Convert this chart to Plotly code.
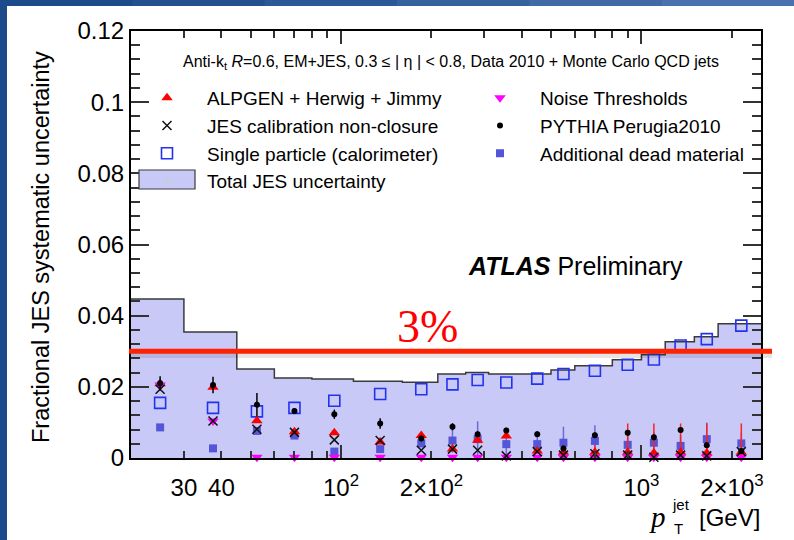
import numpy as np
import plotly.graph_objects as go

# ---- data -------------------------------------------------------------
# jet pT bin edges [GeV]
pt_edges = [20, 30, 45, 60, 80, 110, 160, 210, 260, 310, 400, 500,
            600, 800, 1000, 1200, 1500, 1800, 2500]

# total JES systematic uncertainty per bin (filled band)
total_jes = [0.0447, 0.0354, 0.0250, 0.0225, 0.0222, 0.0216, 0.0213, 0.0236,
             0.0240, 0.0236, 0.0236, 0.0247, 0.0259, 0.0276, 0.0290, 0.0327,
             0.0341, 0.0377]

# individual components
single_particle = [0.0155, 0.0141, 0.0131, 0.0141, 0.0161, 0.0180, 0.0193, 0.0207,
                   0.0219, 0.0212, 0.0223, 0.0236, 0.0245, 0.0262, 0.0277, 0.0316,
                   0.0334, 0.0372]
dead_material = [0.0086, 0.0027, 0.0076, 0.0063, 0.0018, 0.0025, 0.0041, 0.0049,
                 0.0053, 0.0039, 0.0039, 0.0043, 0.0048, 0.0037, 0.0043, 0.0034,
                 0.0053, 0.0041]
dead_material_err = [0.0, 0.0, 0.0, 0.0, 0.0, 0.0, 0.0008, 0.0034,
                     0.0050, 0.0030, 0.0020, 0.0045, 0.0044, 0.0030, 0.0030, 0.0030,
                     0.0047, 0.0030]
alpgen = [0.0209, 0.0199, 0.0105, 0.0074, 0.0071, 0.0045, 0.0063, 0.0025,
          0.0050, 0.0062, 0.0020, 0.0016, 0.0016, 0.0016, 0.0014, 0.0016,
          0.0014, 0.0016]
alpgen_err = [0.0, 0.0, 0.0, 0.0, 0.0, 0.0, 0.0, 0.0,
              0.0, 0.0, 0.0, 0.0020, 0.0020, 0.0081, 0.0083, 0.0081,
              0.0083, 0.0081]
pythia = [0.0210, 0.0205, 0.0150, 0.0132, 0.0123, 0.0097, 0.0055, 0.0088,
          0.0067, 0.0077, 0.0067, 0.0027, 0.0064, 0.0071, 0.0058, 0.0079,
          0.0036, 0.0020]
pythia_err = [0.0020, 0.0023, 0.0033, 0.0008, 0.0013, 0.0015, 0.0008, 0.0010,
              0.0008, 0.0008, 0.0008, 0.0008, 0.0008, 0.0008, 0.0008, 0.0008,
              0.0008, 0.0008]
nonclosure = [0.0193, 0.0104, 0.0081, 0.0072, 0.0051, 0.0049, 0.0022, 0.0025,
              0.0022, 0.0006, 0.0018, 0.0008, 0.0012, 0.0008, 0.0002, 0.0008,
              0.0006, 0.0018]
noise = [0.0205, 0.0104, 0.0002, 0.0002, 0.0002, 0.0002, 0.0002, 0.0002,
         0.0002, 0.0002, 0.0002, 0.0002, 0.0002, 0.0002, 0.0002, 0.0002,
         0.0002, 0.0002]

reference_level = 0.03

# axis ticks
x_tick_values = [20, 30, 40, 50, 60, 70, 80, 90, 100, 200, 300, 400, 500,
                 600, 700, 800, 900, 1000, 2000]
x_tick_labels = {30: "30", 40: "40", 100: "10<sup>2</sup>", 200: "2×10<sup>2</sup>",
                 1000: "10<sup>3</sup>", 2000: "2×10<sup>3</sup>"}
y_tick_values = [0, 0.02, 0.04, 0.06, 0.08, 0.10, 0.12]
y_tick_labels = ["0", "0.02", "0.04", "0.06", "0.08", "0.1", "0.12"]

# ---- figure -----------------------------------------------------------
SANS = "Liberation Sans, Arial, Helvetica, sans-serif"
SERIF = "Liberation Serif, Times New Roman, serif"
BAND_FILL = "#c9c9f8"
BAND_LINE = "#3a3a3a"

W, H = 794, 540
L, R, T, B = 131, 33, 31, 82
PW, PH = W - L - R, H - T - B


def px_x(p):
    return (p - L) / PW


def px_y(p):
    return (H - B - p) / PH


edges = np.array(pt_edges, dtype=float)
centers = 0.5 * (edges[:-1] + edges[1:])

fig = go.Figure()

# total uncertainty band as a filled step histogram
fig.add_trace(go.Scatter(
    x=edges, y=list(total_jes) + [total_jes[-1]],
    mode="lines", line=dict(shape="hv", color=BAND_LINE, width=1.5),
    fill="tozeroy", fillcolor=BAND_FILL, showlegend=False,
    hoverinfo="skip"))

common = dict(mode="markers", cliponaxis=False)

fig.add_trace(go.Scatter(
    x=centers, y=single_particle, name="Single particle (calorimeter)",
    marker=dict(symbol="square-open", size=11, color="#2233ee",
                line=dict(width=1.6, color="#2233ee")),
    legend="legend", legendrank=3, **common))

fig.add_trace(go.Scatter(
    x=centers, y=dead_material, name="Additional dead material",
    marker=dict(symbol="square", size=8, color="#5555d8"),
    error_y=dict(type="data", array=dead_material_err, color="#6a6ad8",
                 thickness=1.5, width=0),
    legend="legend2", legendrank=3, **common))

fig.add_trace(go.Scatter(
    x=centers, y=alpgen, name="ALPGEN + Herwig + Jimmy",
    marker=dict(symbol="triangle-up", size=10, color="#ff0000"),
    error_y=dict(type="data", array=alpgen_err, color="#ff2020",
                 thickness=1.5, width=0),
    legend="legend", legendrank=1, **common))

fig.add_trace(go.Scatter(
    x=centers, y=noise, name="Noise Thresholds",
    marker=dict(symbol="triangle-down", size=10, color="#ff00ff"),
    legend="legend2", legendrank=1, **common))

fig.add_trace(go.Scatter(
    x=centers, y=nonclosure, name="JES calibration non-closure",
    marker=dict(symbol="x-thin-open", size=9, color="#111111",
                line=dict(width=1.5, color="#111111")),
    legend="legend", legendrank=2, **common))

fig.add_trace(go.Scatter(
    x=centers, y=pythia, name="PYTHIA Perugia2010",
    marker=dict(symbol="circle", size=6, color="#000000"),
    error_y=dict(type="data", array=pythia_err, color="#000000",
                 thickness=1.5, width=0),
    legend="legend2", legendrank=2, **common))

# legend entry for the band (its key box is drawn as a shape below)
fig.add_trace(go.Scatter(
    x=[None], y=[None], mode="markers", marker=dict(opacity=0),
    name="Total JES uncertainty", legend="legend", legendrank=4))

# 3% reference line with a soft shadow
shapes = [
    dict(type="line", xref="paper", yref="y", x0=px_x(129), x1=px_x(772),
         y0=reference_level - 0.0008, y1=reference_level - 0.0008,
         line=dict(color="rgba(0,0,0,0.10)", width=8), layer="above"),
    dict(type="line", xref="paper", yref="y", x0=px_x(129), x1=px_x(772),
         y0=reference_level, y1=reference_level,
         line=dict(color="#ff2200", width=5), layer="above"),
    # legend key for the total uncertainty band
    dict(type="rect", xref="paper", yref="paper",
         x0=px_x(139), x1=px_x(195), y0=px_y(189), y1=px_y(170),
         fillcolor=BAND_FILL, line=dict(color=BAND_LINE, width=1.2),
         layer="above"),
]

# slide frame (blue bars at the left and top edges)
frame_cols = ["#1d4a8a", "#24508f", "#2d5897", "#36619f", "#3f69a7", "#4872ae"]
seg = W / len(frame_cols)
for i, c in enumerate(frame_cols):
    shapes.append(dict(type="rect", xref="paper", yref="paper",
                       x0=px_x(i * seg), x1=px_x((i + 1) * seg + 1),
                       y0=px_y(6), y1=px_y(0), fillcolor=c, line_width=0,
                       layer="above"))
shapes.append(dict(type="rect", xref="paper", yref="paper",
                   x0=px_x(0), x1=px_x(7), y0=px_y(H), y1=px_y(0),
                   fillcolor="#1d4a8a", line_width=0, layer="above"))

annotations = [
    dict(text="Anti-k<sub>t</sub> <i>R</i>=0.6, EM+JES, 0.3 ≤ | η | < 0.8, "
              "Data 2010 + Monte Carlo QCD jets",
         xref="paper", yref="paper", x=px_x(181), y=px_y(63),
         xanchor="left", yanchor="middle", showarrow=False,
         font=dict(family=SANS, size=16, color="#000")),
    dict(text="<b><i>ATLAS</i></b> Preliminary",
         xref="paper", yref="paper", x=px_x(466), y=px_y(266),
         xanchor="left", yanchor="middle", showarrow=False,
         font=dict(family=SANS, size=25, color="#000")),
    dict(text=f"{reference_level * 100:.0f}%",
         xref="paper", yref="paper", x=px_x(427), y=px_y(326),
         xanchor="center", yanchor="middle", showarrow=False,
         font=dict(family=SERIF, size=46, color="#ff0000")),
    dict(text="Fractional JES systematic uncertainty",
         xref="paper", yref="paper", x=px_x(41), y=px_y(247),
         xanchor="center", yanchor="middle", textangle=-90, showarrow=False,
         font=dict(family=SANS, size=23.5, color="#000")),
    # x-axis title: p_T^jet [GeV]
    dict(text="<i>p</i>", xref="paper", yref="paper", x=px_x(657), y=px_y(517),
         xanchor="center", yanchor="middle", showarrow=False,
         font=dict(family=SERIF, size=29, color="#000")),
    dict(text="jet", xref="paper", yref="paper", x=px_x(681), y=px_y(505),
         xanchor="center", yanchor="middle", showarrow=False,
         font=dict(family=SANS, size=15, color="#000")),
    dict(text="T", xref="paper", yref="paper", x=px_x(678), y=px_y(528),
         xanchor="center", yanchor="middle", showarrow=False,
         font=dict(family=SANS, size=15, color="#000")),
    dict(text="[GeV]", xref="paper", yref="paper", x=px_x(729), y=px_y(517),
         xanchor="center", yanchor="middle", showarrow=False,
         font=dict(family=SANS, size=24, color="#000")),
]

axis_common = dict(
    showline=True, linecolor="#000000", linewidth=2, mirror="allticks",
    ticks="inside", tickcolor="#333333", tickwidth=1.5,
    showgrid=False, zeroline=False,
    tickfont=dict(family=SANS, size=24, color="#000"),
)

legend_common = dict(yanchor="top", xanchor="left", bgcolor="rgba(0,0,0,0)",
                     font=dict(family=SANS, size=19, color="#000"),
                     traceorder="normal", itemsizing="trace", itemwidth=70)

fig.update_layout(
    width=W, height=H,
    margin=dict(l=L, r=R, t=T, b=B),
    paper_bgcolor="#ffffff", plot_bgcolor="#ffffff",
    xaxis=dict(type="log", range=[np.log10(pt_edges[0]), np.log10(pt_edges[-1])],
               tickmode="array", tickvals=x_tick_values,
               ticktext=[x_tick_labels.get(v, "") for v in x_tick_values],
               ticklen=7, ticklabelstandoff=7,
               minor=dict(tickmode="array", tickvals=[100, 1000], ticklen=13,
                          ticks="inside", tickcolor="#333333", tickwidth=1.5),
               **axis_common),
    yaxis=dict(range=[0, 0.12], tickmode="array", tickvals=y_tick_values,
               ticktext=y_tick_labels, ticklen=18,
               minor=dict(tickmode="linear", tick0=0, dtick=0.004, ticklen=9,
                          ticks="inside", tickcolor="#333333", tickwidth=1.5),
               **axis_common),
    legend=dict(x=px_x(127), y=px_y(79), **legend_common),
    legend2=dict(x=px_x(460), y=px_y(79), **legend_common),
    shapes=shapes,
    annotations=annotations,
    showlegend=True,
)

fig.write_html("out.html")
